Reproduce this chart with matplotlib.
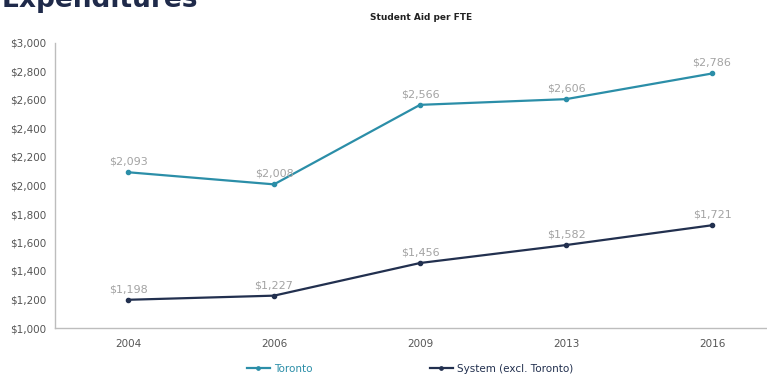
import matplotlib
matplotlib.use("Agg")
import matplotlib.pyplot as plt
from matplotlib.ticker import FuncFormatter

years = ["2004", "2006", "2009", "2013", "2016"]
toronto = [2093, 2008, 2566, 2606, 2786]
system = [1198, 1227, 1456, 1582, 1721]
series_names = ["Toronto", "System (excl. Toronto)"]
yticks = list(range(1000, 3001, 200))

c_tor = "#2b8ea8"
c_sys = "#22304f"
W, H = 767, 375
fig = plt.figure(figsize=(W/100, H/100), dpi=100)
ax = fig.add_axes([55/W, 1-328/H, 1-55/W, (328-43)/H])

x = list(range(len(years)))
l1, = ax.plot(x, toronto, color=c_tor, lw=1.6, marker="o", ms=3, label=series_names[0])
l2, = ax.plot(x, system, color=c_sys, lw=1.6, marker="o", ms=3, label=series_names[1])
for xi, v in zip(x, toronto):
    ax.annotate(f"${v:,}", (xi, v), xytext=(0, 4), textcoords="offset points",
                ha="center", va="bottom", fontsize=8, color="#a3a3a3")
for xi, v in zip(x, system):
    ax.annotate(f"${v:,}", (xi, v), xytext=(0, 4), textcoords="offset points",
                ha="center", va="bottom", fontsize=8, color="#a3a3a3")

ax.set_xlim(-0.5, 4 + (767-712)/146)
ax.set_ylim(1000, 3000)
ax.set_xticks(x)
ax.set_xticklabels(years)
ax.set_yticks(yticks)
ax.yaxis.set_major_formatter(FuncFormatter(lambda v, p: f"${int(v):,}"))
ax.tick_params(length=0, labelsize=7.5, colors="#555555", pad=6)
ax.tick_params(axis="x", pad=8)
for s in ["top", "right"]:
    ax.spines[s].set_visible(False)
for s in ["left", "bottom"]:
    ax.spines[s].set_color("#bdbdbd")
    ax.spines[s].set_linewidth(1)

fig.text(421/W, 1-18/H, "Student Aid per FTE", ha="center", va="center",
         fontsize=6.5, fontweight="bold", color="#222222")
fig.text(2/W, 1-7/H, "Expenditures", ha="left", va="baseline",
         fontsize=19, fontweight="bold", color="#1f2a4a")

leg = fig.legend(handles=[l1, l2], loc="center", bbox_to_anchor=(410/W, 1-369/H),
                 ncol=2, frameon=False, fontsize=7.5, columnspacing=11.3,
                 handlelength=2.2, handletextpad=0.4, markerscale=0.8)
for t, c in zip(leg.get_texts(), [c_tor, c_sys]):
    t.set_color(c)

fig.savefig("out.png", dpi=100)
